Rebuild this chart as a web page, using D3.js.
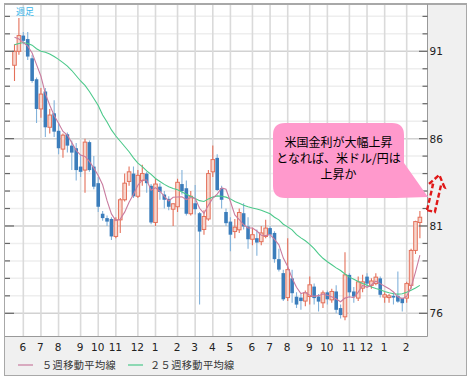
<!DOCTYPE html>
<meta charset="utf-8">
<style>
body { margin: 0; background: #fff; }
text { font-family: "DejaVu Sans", sans-serif; }
.jp { font-family: "Noto Sans CJK JP", sans-serif; }
</style>
<body>
<svg width="472" height="381"></svg>
<script src="https://d3js.org/d3.v7.min.js"></script>
<script>

// weekly USD/JPY, first candle = week of 2010-05-24
var firstWeek = new Date(2010, 4, 24);

var open  = [90.2,91.0,91.9,91.7,90.6,89.4,87.7,88.7,86.65,87.45,86.45,85.4,86.25,85.6,85.45,84.4,84.2,85.8,84.4,83.45,
             81.7,81.45,81.4,80.4,81.35,82.5,83.55,84.0,82.7,83.6,84.0,83.3,81.2,83.25,82.8,82.55,81.96,82.1,83.4,83.16,
             81.7,82.3,81.73,80.8,81.4,84.1,84.9,83.16,81.8,81.25,80.68,80.78,81.73,80.97,80.24,80.3,80.1,80.4,80.88,80.6,
             79.1,78.3,76.9,78.0,76.95,76.9,76.7,76.96,77.53,76.96,76.6,77.2,76.77,77.25,76.3,75.8,78.2,77.25,76.87,77.44,
             78.1,77.6,77.7,78.0,76.93,76.9,77.0,77.0,76.87,76.87,77.6,79.6,81.2];
var high  = [91.4,92.9,92.1,92.1,90.8,89.5,88.9,88.9,87.7,88.2,86.9,86.3,86.35,85.9,85.75,85.1,86.0,85.9,85.0,83.8,
             81.85,81.6,81.5,81.5,82.6,84.0,84.4,84.4,84.2,84.5,84.1,83.4,83.7,83.45,83.0,82.7,82.3,83.7,84.2,83.6,
             83.0,83.35,81.8,81.9,84.2,85.6,85.1,83.3,82.0,81.5,81.4,82.0,82.3,81.5,80.9,80.8,81.0,81.35,81.0,80.7,
             79.7,78.5,80.3,78.5,77.2,77.1,77.3,78.1,77.7,77.1,77.3,77.3,77.4,77.6,76.5,79.5,78.3,77.5,78.1,78.2,
             78.3,78.0,78.3,78.1,77.2,77.1,77.2,78.4,76.9,77.8,79.7,81.3,81.85];
var low   = [89.3,90.8,91.4,90.5,89.2,86.9,87.2,86.1,86.3,86.1,85.1,84.9,85.2,84.2,83.6,83.8,82.9,84.1,83.1,81.8,
             81.3,81.0,80.2,80.3,80.6,82.4,83.3,82.6,82.6,83.3,82.9,81.1,81.0,82.5,82.0,81.9,81.0,81.8,82.8,81.6,
             81.6,81.65,76.5,80.5,81.3,83.8,83.0,82.0,81.0,79.55,80.3,80.6,80.8,79.7,79.9,79.3,79.9,80.3,80.3,78.9,
             78.4,76.7,76.7,76.6,76.3,76.2,76.4,76.5,76.5,76.1,76.3,76.5,76.6,76.0,75.7,75.6,76.9,76.6,76.7,77.2,
             77.5,77.4,77.6,76.9,76.6,76.6,76.5,76.6,76.1,76.6,77.4,79.4,80.3];
var close = [91.0,91.9,91.6,90.7,89.3,87.7,88.55,86.65,87.35,86.4,85.45,86.2,85.6,85.2,84.2,84.1,85.8,84.2,83.25,82.1,
             81.45,81.25,80.4,81.35,82.5,83.45,84.1,82.7,83.9,84.0,83.45,81.2,83.4,82.95,82.5,82.1,82.27,83.5,83.0,81.7,
             82.7,81.96,80.68,81.54,84.0,84.8,83.06,82.5,81.16,80.5,80.93,81.77,80.97,80.24,80.5,80.05,80.6,80.88,80.5,79.1,
             78.5,76.8,78.5,77.15,76.5,76.7,77.17,77.63,76.87,76.67,77.17,76.8,77.25,76.2,75.9,78.2,77.2,76.96,77.8,77.8,
             77.7,77.85,78.07,77.06,77.06,77.0,76.9,76.67,76.58,77.7,79.6,81.25,81.5];

var ma5  = [91.8,91.7,91.5,91.3,90.9,90.24,89.57,88.58,87.91,87.33,86.88,86.41,86.2,85.77,85.33,85.06,84.98,84.7,84.31,83.89,
            83.36,82.45,81.69,81.31,81.39,81.79,82.36,82.82,83.33,83.63,83.63,83.05,83.19,83.0,82.7,82.43,82.64,82.66,82.67,82.51,
            82.63,82.57,82.01,81.72,82.18,82.6,82.82,83.18,83.1,82.4,81.63,81.37,81.07,80.88,80.88,80.71,80.47,80.45,80.51,80.23,
            79.92,79.16,78.68,78.01,77.49,77.13,77.2,77.03,76.97,77.01,77.1,77.03,76.95,76.82,76.66,76.87,76.95,76.89,77.21,77.59,
            77.49,77.62,77.84,77.7,77.55,77.41,77.22,76.94,76.84,76.97,77.49,78.36,79.33];
var ma25 = [91.38,91.45,91.5,91.45,91.35,91.15,91.0,90.95,90.85,90.7,90.54,90.35,90.15,89.9,89.6,89.3,89.05,88.7,88.3,87.9,
            87.35,86.95,86.5,86.15,85.85,85.55,85.25,84.9,84.6,84.4,84.15,83.95,83.72,83.55,83.38,83.25,83.15,83.07,82.95,82.82,
            82.7,82.57,82.45,82.4,82.55,82.65,82.72,82.7,82.65,82.55,82.4,82.3,82.18,82.1,82.03,81.97,81.9,81.8,81.7,81.5,
            81.35,81.1,80.95,80.78,80.5,80.32,80.15,79.95,79.7,79.4,79.15,78.95,78.78,78.6,78.45,78.25,78.07,77.95,77.82,77.7,
            77.6,77.5,77.42,77.35,77.25,77.18,77.12,77.1,77.12,77.2,77.32,77.45,77.6];

var yLabels = [76, 81, 86, 91];
var legendNames = ["５週移動平均線", "２５週移動平均線"];
var noteLines = ["米国金利が大幅上昇", "となれば、米ドル/円は", "上昇か"];

var upColor = "#e4705a", upFill = "#f7d6cd", downColor = "#3b7dbb", downWick = "#83b2da";
var ma5Color = "#c97c9f", ma25Color = "#4cc98b";

var svg = d3.select("svg");

var weeks = d3.range(close.length).map(function(i) { return d3.timeMonday.offset(firstWeek, i); });
var candles = weeks.map(function(d, i) {
  return {i: i, date: d, o: open[i], h: high[i], l: low[i], c: close[i]};
});

var x = d3.scaleLinear().domain([0, 92]).range([14.5, 419.9]);
var y = d3.scaleLinear().domain([76, 91]).range([313.3, 51.3]);

// frame
svg.append("rect").attr("x", 4.5).attr("y", 4.5).attr("width", 462).attr("height", 371)
    .attr("fill", "#f0f0f0").attr("stroke", "#a8a8a8");
svg.append("line").attr("x1", 4).attr("x2", 467).attr("y1", 4).attr("y2", 4)
    .attr("stroke", "#a8a8a8").attr("stroke-width", 2);
svg.append("rect").attr("x", 5).attr("y", 5).attr("width", 422.5).attr("height", 331)
    .attr("fill", "#fff");

svg.append("clipPath").attr("id", "plot")
  .append("rect").attr("x", 5).attr("y", 5).attr("width", 422.5).attr("height", 331);

var plot = svg.append("g").attr("clip-path", "url(#plot)");

// grid
var levels = d3.range(76, 94);
plot.selectAll(".hgrid").data(levels).enter().append("line")
    .attr("x1", 5).attr("x2", 427.5)
    .attr("y1", function(d) { return y(d); }).attr("y2", function(d) { return y(d); })
    .attr("stroke", function(d) { return d % 5 === 1 ? "#d2d2d2" : "#eeeeee"; })
    .attr("stroke-width", 1.5);

var monthStarts = candles.filter(function(d) { return d.date.getDate() <= 7 && d.i > 0; });
plot.selectAll(".vgrid").data(monthStarts).enter().append("line")
    .attr("x1", function(d) { return x(d.i); }).attr("x2", function(d) { return x(d.i); })
    .attr("y1", 5).attr("y2", 336)
    .attr("stroke", "#dadada").attr("stroke-width", 1.6);

// candles
var cg = plot.selectAll(".candle").data(candles).enter().append("g");
cg.append("line")
    .attr("x1", function(d) { return x(d.i); }).attr("x2", function(d) { return x(d.i); })
    .attr("y1", function(d) { return y(d.h); }).attr("y2", function(d) { return y(d.l); })
    .attr("stroke", function(d) { return d.c >= d.o ? upColor : downWick; })
    .attr("stroke-width", 1.1);
cg.append("rect")
    .attr("x", function(d) { return x(d.i) - 1.8; })
    .attr("width", 3.6)
    .attr("y", function(d) { return y(Math.max(d.o, d.c)); })
    .attr("height", function(d) { return Math.max(1, Math.abs(y(d.o) - y(d.c))); })
    .attr("fill", function(d) { return d.c >= d.o ? upFill : downColor; })
    .attr("stroke", function(d) { return d.c >= d.o ? upColor : "none"; })
    .attr("stroke-width", 1);

// moving averages
var line = d3.line().x(function(d, i) { return x(i); }).y(function(d) { return y(d); });
plot.append("path").datum(ma25).attr("d", line)
    .attr("fill", "none").attr("stroke", ma25Color).attr("stroke-width", 1.1);
plot.append("path").datum(ma5).attr("d", line)
    .attr("fill", "none").attr("stroke", ma5Color).attr("stroke-width", 1.1);

// axis borders
svg.append("line").attr("x1", 427.5).attr("x2", 427.5).attr("y1", 4).attr("y2", 336.5)
    .attr("stroke", "#999");
svg.append("line").attr("x1", 5).attr("x2", 427.5).attr("y1", 336.5).attr("y2", 336.5)
    .attr("stroke", "#999");

// ticks, both sides, pointing inward
svg.selectAll(".rtick").data(levels).enter().append("line")
    .attr("x1", function(d) { return d % 5 === 1 ? 419 : 422.5; }).attr("x2", 427.5)
    .attr("y1", function(d) { return y(d); }).attr("y2", function(d) { return y(d); })
    .attr("stroke", "#666").attr("stroke-width", 1.2);
svg.selectAll(".ltick").data(levels).enter().append("line")
    .attr("x1", 5).attr("x2", function(d) { return d % 5 === 1 ? 14 : 10; })
    .attr("y1", function(d) { return y(d); }).attr("y2", function(d) { return y(d); })
    .attr("stroke", "#666").attr("stroke-width", 1.2);

svg.selectAll(".ylab").data(yLabels).enter().append("text")
    .attr("x", 429.5).attr("y", function(d) { return y(d) + 4; })
    .attr("font-size", 10.5).attr("fill", "#222")
    .text(function(d) { return d; });

svg.selectAll(".xlab").data(monthStarts).enter().append("text")
    .attr("x", function(d) { return x(d.i) - 0.5; }).attr("y", 351)
    .attr("text-anchor", "middle").attr("font-size", 10.5).attr("fill", "#222")
    .text(function(d) { return d.date.getMonth() + 1; });

// legend
var lg = svg.selectAll(".legend").data(legendNames).enter().append("g")
    .attr("transform", function(d, i) { return "translate(" + (i === 0 ? 18 : 128) + ",365)"; });
lg.append("line").attr("x1", 0).attr("x2", 15).attr("y1", 0).attr("y2", 0)
    .attr("stroke", function(d, i) { return i === 0 ? ma5Color : ma25Color; }).attr("stroke-width", 1.2);
lg.append("text").attr("class", "jp").attr("x", function(d, i) { return i === 0 ? 24 : 22; }).attr("y", 3.8)
    .attr("font-size", 10.2).attr("fill", "#333").attr("letter-spacing", 0.4)
    .text(function(d) { return d; });

svg.append("text").attr("class", "jp").attr("x", 16).attr("y", 15)
    .attr("font-size", 9).attr("fill", "#36b4e8").text("週足");

// callout
var bx = 273, by = 123, bw = 131, bh = 75;
svg.append("path")
    .attr("d", "M" + (bx + 12) + "," + by + "H" + (bx + bw - 12) + "Q" + (bx + bw) + "," + by + " " + (bx + bw) + "," + (by + 12) +
               "V" + (by + 40) + "L428,197L" + (bx + bw - 8) + "," + (by + bh) + "H" + (bx + 12) +
               "Q" + bx + "," + (by + bh) + " " + bx + "," + (by + bh - 12) + "V" + (by + 12) + "Q" + bx + "," + by + " " + (bx + 12) + "," + by + "Z")
    .attr("fill", "#ff99cc");
svg.selectAll(".note").data(noteLines).enter().append("text")
    .attr("class", "jp").attr("x", 338.5).attr("y", function(d, i) { return 147 + i * 16; })
    .attr("text-anchor", "middle").attr("font-size", 12).attr("fill", "#000")
    .text(function(d) { return d; });

// dashed arrow
svg.append("path")
    .attr("d", "M-4,18 L-4,-8 L-8,-8 L0,-19 L8,-8 L4,-8 L4,18 Z")
    .attr("transform", "translate(435,193.5) rotate(13)")
    .attr("fill", "none").attr("stroke", "#e01818").attr("stroke-width", 2.4)
    .attr("stroke-dasharray", "5,2.5");

</script>
</body>
